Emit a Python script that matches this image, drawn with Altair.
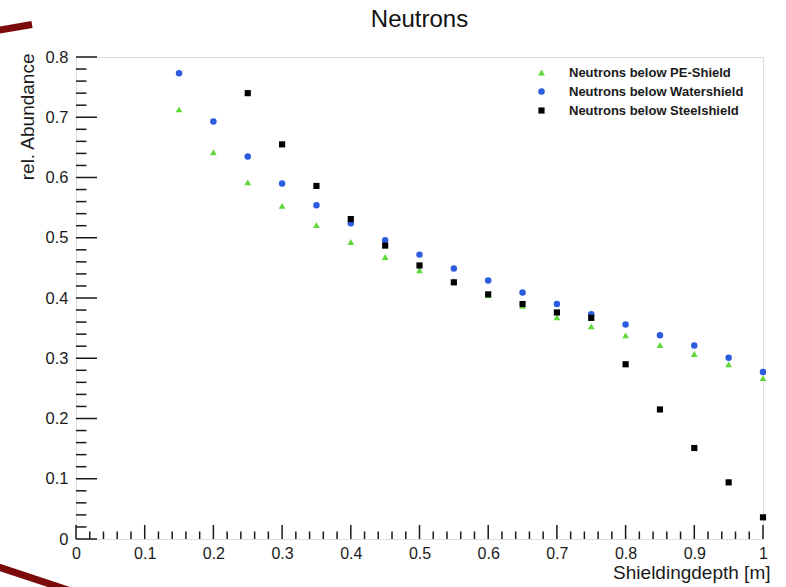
import altair as alt
import pandas as pd

# Shielding depth [m] for each series
depth_pe = [0.15, 0.20, 0.25, 0.30, 0.35, 0.40, 0.45, 0.50, 0.55,
            0.60, 0.65, 0.70, 0.75, 0.80, 0.85, 0.90, 0.95, 1.00]
depth_water = [0.15, 0.20, 0.25, 0.30, 0.35, 0.40, 0.45, 0.50, 0.55,
               0.60, 0.65, 0.70, 0.75, 0.80, 0.85, 0.90, 0.95, 1.00]
depth_steel = [0.25, 0.30, 0.35, 0.40, 0.45, 0.50, 0.55, 0.60,
               0.65, 0.70, 0.75, 0.80, 0.85, 0.90, 0.95, 1.00]

# Relative neutron abundance below each shield
abund_pe = [0.713, 0.642, 0.592, 0.553, 0.521, 0.493, 0.468, 0.446, 0.428,
            0.405, 0.387, 0.368, 0.353, 0.338, 0.322, 0.307, 0.290, 0.267]
abund_water = [0.773, 0.693, 0.635, 0.590, 0.554, 0.524, 0.496, 0.472, 0.449,
               0.429, 0.409, 0.390, 0.373, 0.356, 0.338, 0.321, 0.301, 0.277]
abund_steel = [0.740, 0.655, 0.586, 0.531, 0.487, 0.454, 0.426, 0.406,
               0.390, 0.376, 0.367, 0.290, 0.215, 0.151, 0.094, 0.036]

series_names = ["Neutrons below PE-Shield",
                "Neutrons below Watershield",
                "Neutrons below Steelshield"]
series_colors = ["#5fd83a", "#2b5ce0", "#000000"]
series_shapes = ["triangle-up", "circle", "square"]
series_sizes = [46, 38, 54]

plot_title = "Neutrons"

# Axis tick positions
x_major = [0, 0.1, 0.2, 0.3, 0.4, 0.5, 0.6, 0.7, 0.8, 0.9, 1.0]
y_major = [0, 0.1, 0.2, 0.3, 0.4, 0.5, 0.6, 0.7, 0.8]
x_minor = [round(i * 0.02, 2) for i in range(51) if i % 5]
y_minor = [round(i * 0.02, 2) for i in range(41) if i % 5]

rows = []
for name, xs_, ys_ in zip(series_names,
                          [depth_pe, depth_water, depth_steel],
                          [abund_pe, abund_water, abund_steel]):
    for d, a in zip(xs_, ys_):
        rows.append({"depth": d, "abundance": a, "series": name})
df = pd.DataFrame(rows)

FONT = "Liberation Sans"
W, H = 687, 482
INK = "#1a1a1a"

xscale = alt.Scale(domain=[0, 1], nice=False, zero=False)
yscale = alt.Scale(domain=[0, 0.8], nice=False, zero=False)

points = alt.Chart(df).mark_point(filled=True, opacity=1, strokeWidth=0).encode(
    x=alt.X("depth:Q", scale=xscale,
            axis=alt.Axis(values=x_major, format="~g", title="Shieldingdepth [m]",
                          ticks=False, tickSize=0, domain=False, grid=False,
                          labelPadding=6, labelFontSize=16, labelFont=FONT,
                          labelColor=INK, titleFont=FONT, titleFontSize=19,
                          titleFontWeight="normal", titleColor=INK,
                          titleAlign="right", titleBaseline="alphabetic",
                          titleX=694, titleY=39, labelFlush=False)),
    y=alt.Y("abundance:Q", scale=yscale,
            axis=alt.Axis(values=y_major, format="~g", title="rel. Abundance",
                          ticks=False, tickSize=0, domain=False, grid=False,
                          labelPadding=8, labelFontSize=16.5, labelFont=FONT,
                          labelColor=INK, titleFont=FONT, titleFontSize=19,
                          titleFontWeight="normal", titleColor=INK,
                          titleAngle=270, titleAlign="right",
                          titleBaseline="alphabetic", titleX=-43, titleY=-4,
                          labelFlush=False)),
    color=alt.Color("series:N",
                    scale=alt.Scale(domain=series_names, range=series_colors),
                    legend=alt.Legend(title=None, orient="none", direction="vertical",
                                      legendX=459, legendY=9, symbolSize=30,
                                      labelFont=FONT, labelFontWeight="bold",
                                      labelFontSize=13, labelColor=INK,
                                      labelOffset=21, labelLimit=400,
                                      rowPadding=5, padding=0,
                                      symbolStrokeWidth=0)),
    shape=alt.Shape("series:N",
                    scale=alt.Scale(domain=series_names, range=series_shapes)),
    size=alt.Size("series:N",
                  scale=alt.Scale(domain=series_names, range=series_sizes),
                  legend=None),
)

# Inward-pointing ticks on the left and bottom axes
y_major_ticks = alt.Chart(pd.DataFrame({"abundance": y_major})).mark_rule(
    color=INK, strokeWidth=1.5).encode(
    y=alt.Y("abundance:Q", scale=yscale), x=alt.value(0), x2=alt.value(21))
y_minor_ticks = alt.Chart(pd.DataFrame({"abundance": y_minor})).mark_rule(
    color=INK, strokeWidth=1.5).encode(
    y=alt.Y("abundance:Q", scale=yscale), x=alt.value(0), x2=alt.value(10.5))
x_major_ticks = alt.Chart(pd.DataFrame({"depth": x_major})).mark_rule(
    color=INK, strokeWidth=1.5).encode(
    x=alt.X("depth:Q", scale=xscale), y=alt.value(H), y2=alt.value(H - 14))
x_minor_ticks = alt.Chart(pd.DataFrame({"depth": x_minor})).mark_rule(
    color=INK, strokeWidth=1.5).encode(
    x=alt.X("depth:Q", scale=xscale), y=alt.value(H), y2=alt.value(H - 7.5))

# Plot heading, centred above the frame
heading = alt.Chart(pd.DataFrame({"t": [plot_title]})).mark_text(
    font=FONT, fontSize=24, color="#111111", align="center",
    baseline="alphabetic").encode(
    text="t:N", x=alt.value(W / 2), y=alt.value(-30))

# Dark red slide accents at the left edge
accent = pd.DataFrame({"k": [0]})
accent_top = alt.Chart(accent).mark_rule(color="#7b0b0b", strokeWidth=7).encode(
    x=alt.value(-82), y=alt.value(-26), x2=alt.value(-44), y2=alt.value(-32.5))
accent_bottom = alt.Chart(accent).mark_rule(color="#7b0b0b", strokeWidth=7).encode(
    x=alt.value(-82), y=alt.value(508.5), x2=alt.value(-5), y2=alt.value(534))

chart = alt.layer(
    accent_top, accent_bottom, heading,
    x_minor_ticks, x_major_ticks, y_minor_ticks, y_major_ticks,
    points,
).properties(
    width=W, height=H,
    autosize=alt.AutoSizeParams(type="none"),
    padding={"left": 76, "top": 57, "right": 23, "bottom": 48},
).configure_view(
    stroke=INK, strokeWidth=2
).configure(background="white")

chart.save("out.html", embed_options={"renderer": "svg", "actions": False})
